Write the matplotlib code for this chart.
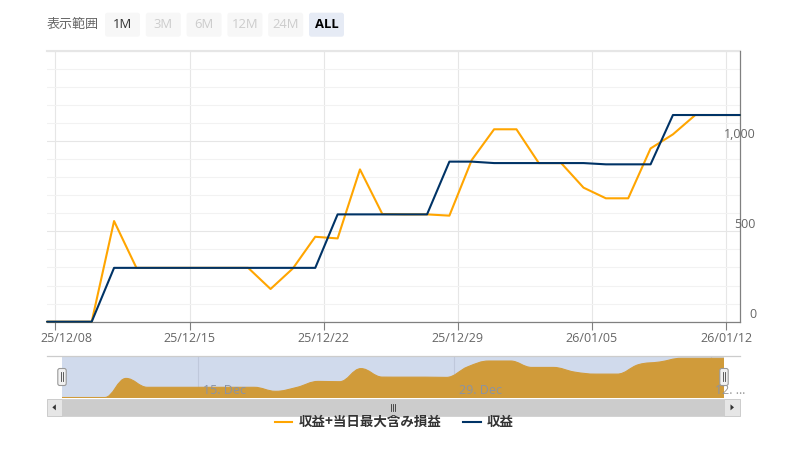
import numpy as np
import matplotlib
matplotlib.use("Agg")
import matplotlib.pyplot as plt
import matplotlib.transforms as mtransforms
from matplotlib.patches import FancyBboxPatch, Rectangle, Polygon, PathPatch
from matplotlib.path import Path
from matplotlib.lines import Line2D

plt.rcParams['font.family'] = ['Open Sans', 'Noto Sans CJK JP', 'DejaVu Sans']

# ---------------- data ----------------
dates_jst = ['2025-12-08', '2025-12-09', '2025-12-10', '2025-12-11', '2025-12-12', '2025-12-13',
             '2025-12-15', '2025-12-16', '2025-12-17', '2025-12-18', '2025-12-19', '2025-12-20',
             '2025-12-22', '2025-12-23', '2025-12-24', '2025-12-25', '2025-12-26', '2025-12-27',
             '2025-12-29', '2025-12-30', '2025-12-31', '2026-01-01', '2026-01-02', '2026-01-03',
             '2026-01-05', '2026-01-06', '2026-01-07', '2026-01-08', '2026-01-09', '2026-01-10',
             '2026-01-12', '2026-01-13']
profit = [0, 0, 0, 298, 298, 298, 298, 298, 298, 298, 298, 298, 298, 594, 594, 594, 594, 594,
          886, 886, 878, 878, 878, 878, 878, 871, 871, 871, 1144, 1144, 1144, 1144]
profit_with_dd = [0, 0, 0, 557, 298, 298, 298, 298, 298, 298, 181, 295, 470, 461, 843, 596, 594, 594,
                  587, 895, 1065, 1065, 878, 878, 742, 683, 683, 959, 1037, 1144, 1144, 1144]
series_names = ['収益+当日最大含み損益', '収益']
series_colors = ['#ffa500', '#003366']

x_tick_dates = ['2025-12-08', '2025-12-15', '2025-12-22', '2025-12-29', '2026-01-05', '2026-01-12']
x_tick_labels = ['25/12/08', '25/12/15', '25/12/22', '25/12/29', '26/01/05', '26/01/12']
nav_tick_dates = ['2025-12-15', '2025-12-29', '2026-01-12']
nav_tick_labels = ['15. Dec', '29. Dec', '12. …']
y_ticks = [0, 500, 1000]
y_max = 1500
range_label = '表示範囲'
range_buttons = ['1M', '3M', '6M', '12M', '24M', 'ALL']
range_state = ['enabled', 'disabled', 'disabled', 'disabled', 'disabled', 'selected']

# ---------------- helpers ----------------
W, H, DPI = 787, 458, 100
fig = plt.figure(figsize=(W / DPI, H / DPI), dpi=DPI)
fig.patch.set_facecolor('white')
inch = fig.dpi_scale_trans


def P(px, py):
    return (px / DPI, (H - py) / DPI)


def ax_rect(x0, y0, x1, y1):
    return [x0 / W, 1 - y1 / H, (x1 - x0) / W, (y1 - y0) / H]


# ordinal positions (timestamps shown in UTC, data stamped at JST midnight)
ts_h = (np.array(dates_jst, dtype='datetime64[h]') - np.timedelta64(9, 'h')).astype(float)
idx = np.arange(len(dates_jst))
tick_pos = np.interp(np.array(x_tick_dates, dtype='datetime64[h]').astype(float), ts_h, idx)
nav_pos = np.interp(np.array(nav_tick_dates, dtype='datetime64[h]').astype(float), ts_h, idx)

# ---------------- main chart ----------------
ax = fig.add_axes(ax_rect(47, 50.7, 740, 321.7))
ax.set_xlim(0, len(idx) - 1)
ax.set_ylim(0, y_max)
ax.set_facecolor('none')
for s in ['left', 'top']:
    ax.spines[s].set_visible(False)
for s in ['right', 'bottom']:
    ax.spines[s].set_color('#808080')
    ax.spines[s].set_linewidth(0.9)

ax.yaxis.set_major_locator(matplotlib.ticker.MultipleLocator(500))
ax.yaxis.set_minor_locator(matplotlib.ticker.MultipleLocator(100))
ax.grid(which='minor', axis='y', color='#f2f2f2', lw=0.8, zorder=0)
ax.grid(which='major', axis='y', color='#e6e6e6', lw=0.8, zorder=0)
ax.tick_params(axis='y', which='both', length=0, labelleft=False, labelright=False)
ax.axhline(y_max, color='#e6e6e6', lw=1.5, zorder=0, clip_on=False)

ax.set_xticks(tick_pos)
ax.tick_params(axis='x', length=5.8, width=0.8, color='#808080', direction='out', labelbottom=False)
for p in tick_pos:
    ax.axvline(p, color='#e6e6e6', lw=0.8, zorder=0)

xblend = mtransforms.blended_transform_factory(ax.transData, ax.transAxes)
for i, (p, lab) in enumerate(zip(tick_pos, x_tick_labels)):
    dx = 10.7 if i == 0 else 0.0
    tr = xblend + mtransforms.ScaledTranslation(dx / DPI, -17.3 / DPI, inch)
    ax.text(p, 0, lab, transform=tr, ha='center', va='center', color='#666666', fontsize=9)

yblend = mtransforms.blended_transform_factory(ax.transAxes, ax.transData)
for v in y_ticks:
    tr = yblend + mtransforms.ScaledTranslation(16 / DPI, 7.0 / DPI, inch)
    ax.text(1, v, f'{v:,}', transform=tr, ha='right', va='center', color='#666666', fontsize=9)

ax.plot(idx, profit_with_dd, color=series_colors[0], lw=1.5, solid_joinstyle='round',
        solid_capstyle='round', clip_on=False, zorder=3)
ax.plot(idx, profit, color=series_colors[1], lw=1.5, solid_joinstyle='round',
        solid_capstyle='round', clip_on=False, zorder=4)

# ---------------- navigator ----------------
NAV_TOP, NAV_BOT = 355.7, 398.3
nav = fig.add_axes(ax_rect(62, NAV_TOP, 724, NAV_BOT))
nav.set_xlim(0, len(idx) - 1)
nav_ymin, nav_ymax = -23, 1220
nav.set_ylim(nav_ymin, nav_ymax)
nav.axis('off')


def spline_path(xs, ys, smoothing=1.5):
    n = len(xs)
    lcx, lcy = list(xs), list(ys)
    rcx, rcy = list(xs), list(ys)
    d = smoothing + 1
    for i in range(1, n - 1):
        px, py = xs[i], ys[i]
        lx, ly = xs[i - 1], ys[i - 1]
        nx, ny = xs[i + 1], ys[i + 1]
        a = (smoothing * px + lx) / d
        b = (smoothing * py + ly) / d
        c = (smoothing * px + nx) / d
        e = (smoothing * py + ny) / d
        if c != a:
            corr = ((e - b) * (c - px)) / (c - a) + py - e
            b += corr
            e += corr
        if b > ly and b > py:
            b = max(ly, py); e = 2 * py - b
        elif b < ly and b < py:
            b = min(ly, py); e = 2 * py - b
        if e > ny and e > py:
            e = max(ny, py); b = 2 * py - e
        elif e < ny and e < py:
            e = min(ny, py); b = 2 * py - e
        lcx[i], lcy[i], rcx[i], rcy[i] = a, b, c, e
    verts = [(xs[0], ys[0])]
    codes = [Path.MOVETO]
    for i in range(1, n):
        verts += [(rcx[i - 1], rcy[i - 1]), (lcx[i], lcy[i]), (xs[i], ys[i])]
        codes += [Path.CURVE4] * 3
    return verts, codes


for p in nav_pos:
    nav.axvline(p, color='#e6e6e6', lw=0.8, zorder=1)

xs = [float(v) for v in idx]
verts, codes = spline_path(xs, [float(v) for v in profit_with_dd])
area_verts = verts + [(xs[-1], nav_ymin), (xs[0], nav_ymin), (xs[0], profit_with_dd[0])]
area_codes = codes + [Path.LINETO, Path.LINETO, Path.CLOSEPOLY]
nav.add_patch(PathPatch(Path(area_verts, area_codes), facecolor=series_colors[0],
                        edgecolor='none', zorder=2))
nav.add_patch(PathPatch(Path(verts, codes), fill=False, edgecolor=series_colors[0],
                        lw=0.8, zorder=2))

nblend = mtransforms.blended_transform_factory(nav.transData, nav.transAxes)
for p, lab in zip(nav_pos, nav_tick_labels):
    tr = nblend + mtransforms.ScaledTranslation(4.7 / DPI, 0, inch)
    nav.text(p, (NAV_BOT - 390.7) / (NAV_BOT - NAV_TOP), lab, transform=tr, ha='left',
             va='center', color='#999999', fontsize=9, zorder=3, clip_on=False)

nav.add_patch(Rectangle((0, 0), len(idx) - 1, 1, transform=nblend,
                        facecolor=(102 / 255, 133 / 255, 194 / 255, 0.3), edgecolor='none', zorder=4))

# outline
fig.add_artist(Line2D([46.7 / DPI, 740 / DPI], [(H - NAV_TOP) / DPI] * 2, transform=inch,
                      color='#cccccc', lw=0.9))

# handles at the data extremes
fig.canvas.draw()
for xv in [0, len(idx) - 1]:
    cx = nav.transData.transform((xv, 0))[0]
    x0, y0 = P(cx - 4.2, 385.5)
    fig.add_artist(FancyBboxPatch((x0, y0), 8.4 / DPI, 17 / DPI,
                                  boxstyle='round,pad=0,rounding_size=0.02', transform=inch,
                                  facecolor='#f2f2f2', edgecolor='#999999', lw=0.8, zorder=6))
    for dx in (-1.3, 1.3):
        fig.add_artist(Line2D([(cx + dx) / DPI] * 2, [(H - 372) / DPI, (H - 381) / DPI],
                              transform=inch, color='#444444', lw=0.6, zorder=7))

# scrollbar
SB_T, SB_B = 399, 415.7
fig.add_artist(Rectangle(P(46.7, SB_B), (740 - 46.7) / DPI, (SB_B - SB_T) / DPI, transform=inch,
                         facecolor='#f2f2f2', edgecolor='none'))
fig.add_artist(Rectangle(P(62, SB_B), (724 - 62) / DPI, (SB_B - SB_T) / DPI, transform=inch,
                         facecolor='#cccccc', edgecolor='#cccccc', lw=0.5))
for bx0, bx1, direction in [(46.7, 62, -1), (724, 740, 1)]:
    fig.add_artist(Rectangle(P(bx0, SB_B), (bx1 - bx0) / DPI, (SB_B - SB_T) / DPI, transform=inch,
                             facecolor='#e6e6e6', edgecolor='#cccccc', lw=0.7))
    cx, cy = (bx0 + bx1) / 2, (SB_T + SB_B) / 2
    tri = [P(cx + 2 * direction, cy), P(cx - 1.5 * direction, cy - 3), P(cx - 1.5 * direction, cy + 3)]
    fig.add_artist(Polygon(tri, closed=True, transform=inch, facecolor='#333333', edgecolor='none'))
gx = (62 + 724) / 2
for dx in (-2, 0, 2):
    fig.add_artist(Line2D([(gx + dx) / DPI] * 2, [(H - 403.5) / DPI, (H - 410.5) / DPI],
                          transform=inch, color='#333333', lw=0.6))

# ---------------- legend ----------------
LY = 421.7
leg = [(275, 291.7, 298.3), (463, 480.7, 486.7)]
for (l0, l1, tx), name, col in zip(leg, series_names, series_colors):
    fig.add_artist(Line2D([l0 / DPI, l1 / DPI], [(H - LY) / DPI] * 2, transform=inch,
                          color=col, lw=1.5))
    fig.text(*P(tx, LY), name, transform=inch, ha='left', va='center', fontsize=9.7,
             fontweight='bold', color='#333333', family=['Noto Sans CJK JP', 'DejaVu Sans'])

# ---------------- range selector ----------------
fig.text(*P(47, 24.5), range_label, transform=inch, ha='left', va='center', fontsize=9.4,
         color='#666666', family=['Noto Sans CJK JP', 'DejaVu Sans'])
for i, (lab, st) in enumerate(zip(range_buttons, range_state)):
    bx = 105 + i * 40.8
    fc = '#e6ebf5' if st == 'selected' else '#f7f7f7'
    fig.add_artist(FancyBboxPatch(P(bx, 36.7), 35 / DPI, 24 / DPI,
                                  boxstyle='round,pad=0,rounding_size=0.025', transform=inch,
                                  facecolor=fc, edgecolor='none'))
    color = {'enabled': '#333333', 'disabled': '#cccccc', 'selected': '#000000'}[st]
    weight = 'bold' if st == 'selected' else 'normal'
    fig.text(*P(bx + 17.5, 24.5), lab, transform=inch, ha='center', va='center', fontsize=9.4,
             color=color, fontweight=weight)

fig.savefig('out.png', dpi=DPI, facecolor='white')
